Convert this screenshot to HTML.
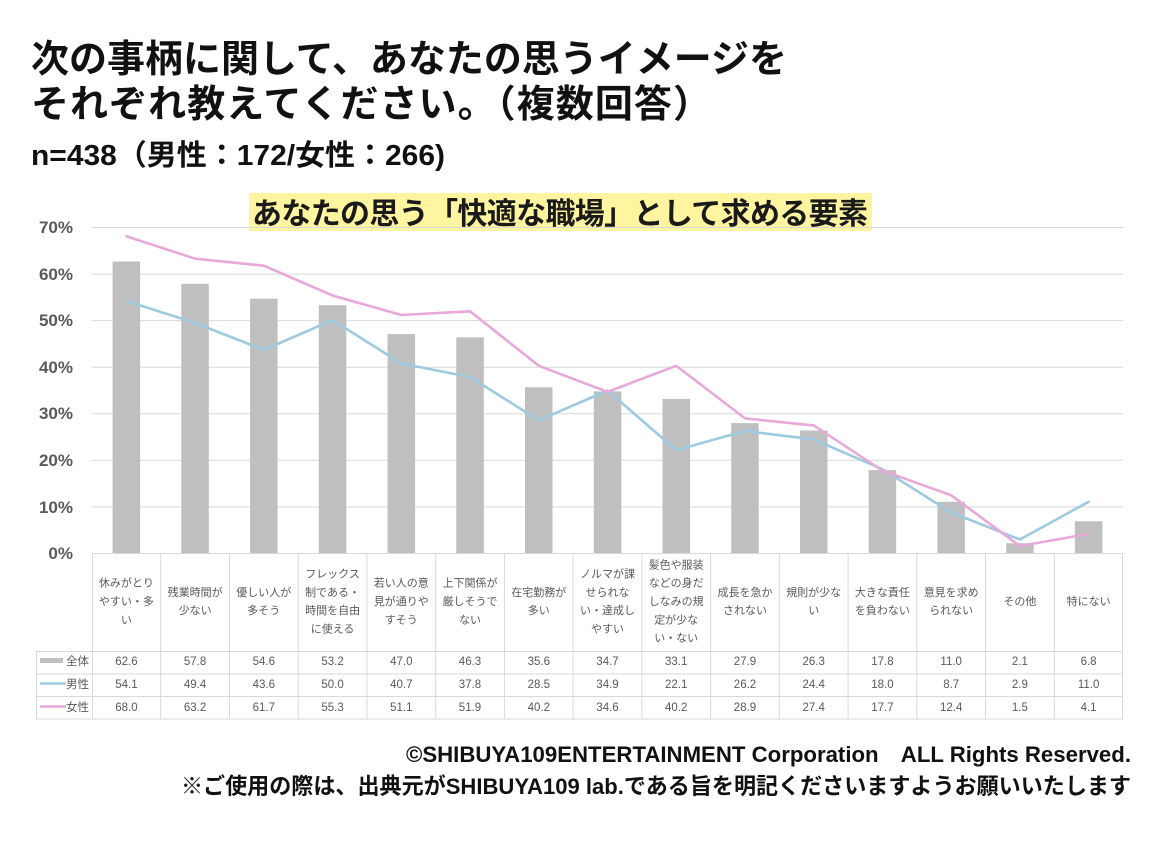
<!DOCTYPE html>
<html><head><meta charset="utf-8">
<style>
html,body{margin:0;padding:0;background:#fff;}
svg{display:block;}
text{font-family:"Liberation Sans","Noto Sans CJK JP",sans-serif;}
</style></head>
<body>
<svg width="1160" height="843" viewBox="0 0 1160 843" xmlns="http://www.w3.org/2000/svg">
<rect width="1160" height="843" fill="#fff"/>
<!-- Titles -->
<text x="31" y="72" font-size="38" font-weight="bold" fill="#111" textLength="756" lengthAdjust="spacing">次の事柄に関して、あなたの思うイメージを</text>
<text x="31" y="117" font-size="38" font-weight="bold" fill="#111" textLength="680" lengthAdjust="spacing">それぞれ教えてください。（複数回答）</text>
<text x="31" y="165" font-size="29" font-weight="bold" fill="#111" textLength="414" lengthAdjust="spacingAndGlyphs">n=438（男性：172/女性：266)</text>

<!-- Chart title -->
<rect x="249" y="193" width="623" height="38" fill="#fff5a0"/>
<text x="252" y="224" font-size="30" font-weight="bold" fill="#1a1a1a" textLength="616" lengthAdjust="spacing">あなたの思う「快適な職場」として求める要素</text>

<!-- Gridlines -->
<g stroke="#d9d9d9" stroke-width="1">
<line x1="92" y1="227.5" x2="1123" y2="227.5"/>
<line x1="92" y1="274.1" x2="1123" y2="274.1"/>
<line x1="92" y1="320.6" x2="1123" y2="320.6"/>
<line x1="92" y1="367.2" x2="1123" y2="367.2"/>
<line x1="92" y1="413.8" x2="1123" y2="413.8"/>
<line x1="92" y1="460.4" x2="1123" y2="460.4"/>
<line x1="92" y1="506.9" x2="1123" y2="506.9"/>
</g>

<!-- Y labels -->
<g font-size="17" font-weight="bold" fill="#595959" text-anchor="end">
<text x="73" y="233">70%</text>
<text x="73" y="280">60%</text>
<text x="73" y="326">50%</text>
<text x="73" y="373">40%</text>
<text x="73" y="419">30%</text>
<text x="73" y="466">20%</text>
<text x="73" y="513">10%</text>
<text x="73" y="559">0%</text>
</g>

<!-- Bars -->
<g fill="#bfbfbf">
<rect x="112.6" y="261.5" width="27.5" height="291.5"/>
<rect x="181.3" y="283.8" width="27.5" height="269.2"/>
<rect x="250.1" y="298.7" width="27.5" height="254.3"/>
<rect x="318.8" y="305.2" width="27.5" height="247.8"/>
<rect x="387.6" y="334.1" width="27.5" height="218.9"/>
<rect x="456.3" y="337.4" width="27.5" height="215.6"/>
<rect x="525.0" y="387.2" width="27.5" height="165.8"/>
<rect x="593.8" y="391.4" width="27.5" height="161.6"/>
<rect x="662.5" y="398.9" width="27.5" height="154.1"/>
<rect x="731.2" y="423.1" width="27.5" height="129.9"/>
<rect x="800.0" y="430.5" width="27.5" height="122.5"/>
<rect x="868.7" y="470.1" width="27.5" height="82.9"/>
<rect x="937.4" y="501.8" width="27.5" height="51.2"/>
<rect x="1006.2" y="543.2" width="27.5" height="9.8"/>
<rect x="1074.9" y="521.3" width="27.5" height="31.7"/>
</g>

<!-- Lines -->
<polyline fill="none" stroke="#9ecae1" stroke-width="2.6" stroke-linejoin="round" stroke-linecap="round"
points="126.4,301.0 195.1,322.9 263.8,349.9 332.6,320.1 401.3,363.5 470.0,377.0 538.8,420.3 607.5,390.5 676.2,450.1 745.0,431.0 813.7,439.4 882.4,469.2 951.2,512.5 1019.9,539.5 1088.6,501.8"/>
<polyline fill="none" stroke="#e8a8d8" stroke-width="2.6" stroke-linejoin="round" stroke-linecap="round"
points="126.4,236.3 195.1,258.7 263.8,265.7 332.6,295.5 401.3,315.0 470.0,311.3 538.8,365.8 607.5,391.9 676.2,365.8 745.0,418.4 813.7,425.4 882.4,470.6 951.2,495.3 1019.9,546.0 1088.6,533.9"/>

<!-- Table grid -->
<g stroke="#d9d9d9" stroke-width="1">
<line x1="92" y1="553.5" x2="1123" y2="553.5"/>
<line x1="36" y1="651.5" x2="1123" y2="651.5"/>
<line x1="36" y1="674" x2="1123" y2="674"/>
<line x1="36" y1="696.5" x2="1123" y2="696.5"/>
<line x1="36" y1="719" x2="1123" y2="719"/>
<line x1="36.5" y1="651" x2="36.5" y2="719"/>
<line x1="92.5" y1="553" x2="92.5" y2="719"/>
<line x1="160.7" y1="553" x2="160.7" y2="719"/>
<line x1="229.5" y1="553" x2="229.5" y2="719"/>
<line x1="298.2" y1="553" x2="298.2" y2="719"/>
<line x1="366.9" y1="553" x2="366.9" y2="719"/>
<line x1="435.7" y1="553" x2="435.7" y2="719"/>
<line x1="504.4" y1="553" x2="504.4" y2="719"/>
<line x1="573.1" y1="553" x2="573.1" y2="719"/>
<line x1="641.9" y1="553" x2="641.9" y2="719"/>
<line x1="710.6" y1="553" x2="710.6" y2="719"/>
<line x1="779.3" y1="553" x2="779.3" y2="719"/>
<line x1="848.1" y1="553" x2="848.1" y2="719"/>
<line x1="916.8" y1="553" x2="916.8" y2="719"/>
<line x1="985.5" y1="553" x2="985.5" y2="719"/>
<line x1="1054.3" y1="553" x2="1054.3" y2="719"/>
<line x1="1122.5" y1="553" x2="1122.5" y2="719"/>
</g>

<!-- Category labels -->
<g font-size="11" fill="#595959" text-anchor="middle">
<text x="126.4" y="586.7">休みがとり</text><text x="126.4" y="605">やすい・多</text><text x="126.4" y="623.3">い</text>
<text x="195.1" y="595.8">残業時間が</text><text x="195.1" y="614.1">少ない</text>
<text x="263.8" y="595.8">優しい人が</text><text x="263.8" y="614.1">多そう</text>
<text x="332.6" y="577.5">フレックス</text><text x="332.6" y="595.8">制である・</text><text x="332.6" y="614.1">時間を自由</text><text x="332.6" y="632.4">に使える</text>
<text x="401.3" y="586.7">若い人の意</text><text x="401.3" y="605">見が通りや</text><text x="401.3" y="623.3">すそう</text>
<text x="470.0" y="586.7">上下関係が</text><text x="470.0" y="605">厳しそうで</text><text x="470.0" y="623.3">ない</text>
<text x="538.8" y="595.8">在宅勤務が</text><text x="538.8" y="614.1">多い</text>
<text x="607.5" y="577.5">ノルマが課</text><text x="607.5" y="595.8">せられな</text><text x="607.5" y="614.1">い・達成し</text><text x="607.5" y="632.4">やすい</text>
<text x="676.2" y="568.4">髪色や服装</text><text x="676.2" y="586.7">などの身だ</text><text x="676.2" y="605">しなみの規</text><text x="676.2" y="623.3">定が少な</text><text x="676.2" y="641.6">い・ない</text>
<text x="745.0" y="595.8">成長を急か</text><text x="745.0" y="614.1">されない</text>
<text x="813.7" y="595.8">規則が少な</text><text x="813.7" y="614.1">い</text>
<text x="882.4" y="595.8">大きな責任</text><text x="882.4" y="614.1">を負わない</text>
<text x="951.2" y="595.8">意見を求め</text><text x="951.2" y="614.1">られない</text>
<text x="1019.9" y="605">その他</text>
<text x="1088.6" y="605">特にない</text>
</g>

<!-- Legend column -->
<rect x="40" y="658" width="23" height="5" fill="#bfbfbf"/>
<line x1="40" y1="683.5" x2="66" y2="683.5" stroke="#9ecae1" stroke-width="2.6"/>
<line x1="40" y1="706.5" x2="66" y2="706.5" stroke="#e8a8d8" stroke-width="2.6"/>
<g font-size="11.5" fill="#595959">
<text x="66" y="665">全体</text>
<text x="66" y="688">男性</text>
<text x="66" y="711">女性</text>
</g>

<!-- Values -->
<g font-size="11.5" fill="#595959" text-anchor="middle">
<text x="126.4" y="665">62.6</text><text x="195.1" y="665">57.8</text><text x="263.8" y="665">54.6</text><text x="332.6" y="665">53.2</text><text x="401.3" y="665">47.0</text><text x="470.0" y="665">46.3</text><text x="538.8" y="665">35.6</text><text x="607.5" y="665">34.7</text><text x="676.2" y="665">33.1</text><text x="745.0" y="665">27.9</text><text x="813.7" y="665">26.3</text><text x="882.4" y="665">17.8</text><text x="951.2" y="665">11.0</text><text x="1019.9" y="665">2.1</text><text x="1088.6" y="665">6.8</text>
<text x="126.4" y="688">54.1</text><text x="195.1" y="688">49.4</text><text x="263.8" y="688">43.6</text><text x="332.6" y="688">50.0</text><text x="401.3" y="688">40.7</text><text x="470.0" y="688">37.8</text><text x="538.8" y="688">28.5</text><text x="607.5" y="688">34.9</text><text x="676.2" y="688">22.1</text><text x="745.0" y="688">26.2</text><text x="813.7" y="688">24.4</text><text x="882.4" y="688">18.0</text><text x="951.2" y="688">8.7</text><text x="1019.9" y="688">2.9</text><text x="1088.6" y="688">11.0</text>
<text x="126.4" y="711">68.0</text><text x="195.1" y="711">63.2</text><text x="263.8" y="711">61.7</text><text x="332.6" y="711">55.3</text><text x="401.3" y="711">51.1</text><text x="470.0" y="711">51.9</text><text x="538.8" y="711">40.2</text><text x="607.5" y="711">34.6</text><text x="676.2" y="711">40.2</text><text x="745.0" y="711">28.9</text><text x="813.7" y="711">27.4</text><text x="882.4" y="711">17.7</text><text x="951.2" y="711">12.4</text><text x="1019.9" y="711">1.5</text><text x="1088.6" y="711">4.1</text>
</g>

<!-- Footer -->
<text x="406" y="762" font-size="22" font-weight="bold" fill="#111" textLength="725" lengthAdjust="spacingAndGlyphs">©SHIBUYA109ENTERTAINMENT Corporation　ALL Rights Reserved.</text>
<text x="181" y="794" font-size="22.5" font-weight="bold" fill="#111" textLength="950" lengthAdjust="spacingAndGlyphs">※ご使用の際は、出典元がSHIBUYA109 lab.である旨を明記くださいますようお願いいたします</text>
</svg>
</body></html>
